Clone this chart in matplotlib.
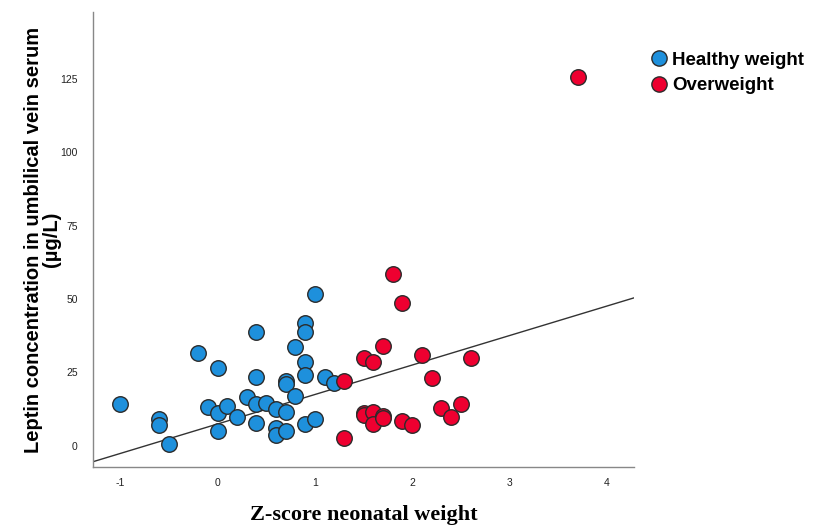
import matplotlib
matplotlib.use("Agg")
import matplotlib.pyplot as plt
from matplotlib.lines import Line2D

plt.rcParams["axes.unicode_minus"] = False

# Data
healthy_x = [-1.0, -0.6, -0.6, -0.5, -0.2, 0.0, 0.4, -0.1, 0.0, 0.0, 0.1, 0.2, 0.3,
             0.4, 0.4, 0.4, 0.5, 0.6, 0.7, 0.6, 0.6, 0.7, 0.7, 0.7, 0.8, 0.8, 0.9,
             0.9, 0.9, 0.9, 0.9, 1.0, 1.0, 1.1, 1.2]
healthy_y = [14.2, 9.3, 7.0, 0.7, 31.7, 26.5, 38.8, 13.4, 11.2, 5.1, 13.6, 9.8, 16.8,
             23.3, 14.3, 7.9, 14.7, 12.5, 11.7, 6.0, 3.6, 4.9, 22.2, 21.0, 17.1, 33.6, 42.0,
             38.7, 28.6, 24.1, 7.4, 51.8, 9.1, 23.3, 21.5]
over_x = [1.8, 1.9, 1.7, 1.5, 1.6, 2.1, 2.6, 1.3, 2.2, 1.3, 1.5, 1.5, 1.6, 1.6,
          1.7, 1.7, 1.9, 2.0, 2.3, 2.4, 2.5, 3.7]
over_y = [58.5, 48.6, 33.9, 30.1, 28.4, 30.9, 30.1, 22.2, 23.0, 2.8, 11.1, 10.4, 11.5, 7.5,
          10.3, 9.5, 8.5, 7.0, 12.8, 9.8, 14.3, 125.7]

fit_intercept = 7.45
fit_slope = 10.04

x_ticks = [-1, 0, 1, 2, 3, 4]
y_ticks = [0, 25, 50, 75, 100, 125]

blue = "#1E90DC"
red = "#EE0030"
edge = "#2b2b2b"

fig = plt.figure(figsize=(8.19, 5.25), dpi=100)
ax = fig.add_axes([93/819, 1-467/525, (634-93)/819, (467-12)/525])

xmin, xmax = -1.28, 4.28
ymin, ymax = -7.2, 147.8
ax.set_xlim(xmin, xmax)
ax.set_ylim(ymin, ymax)

ax.plot([xmin, xmax], [fit_intercept + fit_slope*xmin, fit_intercept + fit_slope*xmax],
        color="#333333", lw=1.0, zorder=1)

ax.scatter(healthy_x, healthy_y, s=125, c=blue, edgecolors=edge, linewidths=1.0, zorder=3)
ax.scatter(over_x, over_y, s=125, c=red, edgecolors=edge, linewidths=1.0, zorder=3)

for s in ["top", "right"]:
    ax.spines[s].set_visible(False)
for s in ["left", "bottom"]:
    ax.spines[s].set_color("#888888")
    ax.spines[s].set_linewidth(1.0)

ax.set_xticks(x_ticks)
ax.set_yticks(y_ticks)
for lab in ax.get_xticklabels() + ax.get_yticklabels():
    lab.set_family("Liberation Sans")
ax.tick_params(length=0, labelsize=7.5, colors="#222222")
ax.tick_params(axis="x", pad=8)
ax.tick_params(axis="y", pad=11)

ax.set_ylabel("Leptin concentration in umbilical vein serum\n(\u00b5g/L)",
              fontsize=14.5, fontweight="bold", family="Liberation Sans",
              linespacing=0.95)
ax.yaxis.set_label_coords((61 - 93) / 541, 0.5)
ax.set_xlabel("Z-score neonatal weight", fontsize=16, fontweight="bold",
              family="Liberation Serif", labelpad=12)

handles = [Line2D([], [], ls="none", marker="o", ms=11, mfc=blue, mec=edge, mew=1.0),
           Line2D([], [], ls="none", marker="o", ms=11, mfc=red, mec=edge, mew=1.0)]
leg = fig.legend(handles, ["Healthy weight", "Overweight"], loc="upper left",
                 bbox_to_anchor=(640/819, 1-44/525), frameon=False,
                 prop={"family": "Liberation Sans", "weight": "bold", "size": 13.5},
                 handletextpad=0.1, labelspacing=0.45, borderaxespad=0, handlelength=1.2)

fig.savefig("out.png", dpi=100)
